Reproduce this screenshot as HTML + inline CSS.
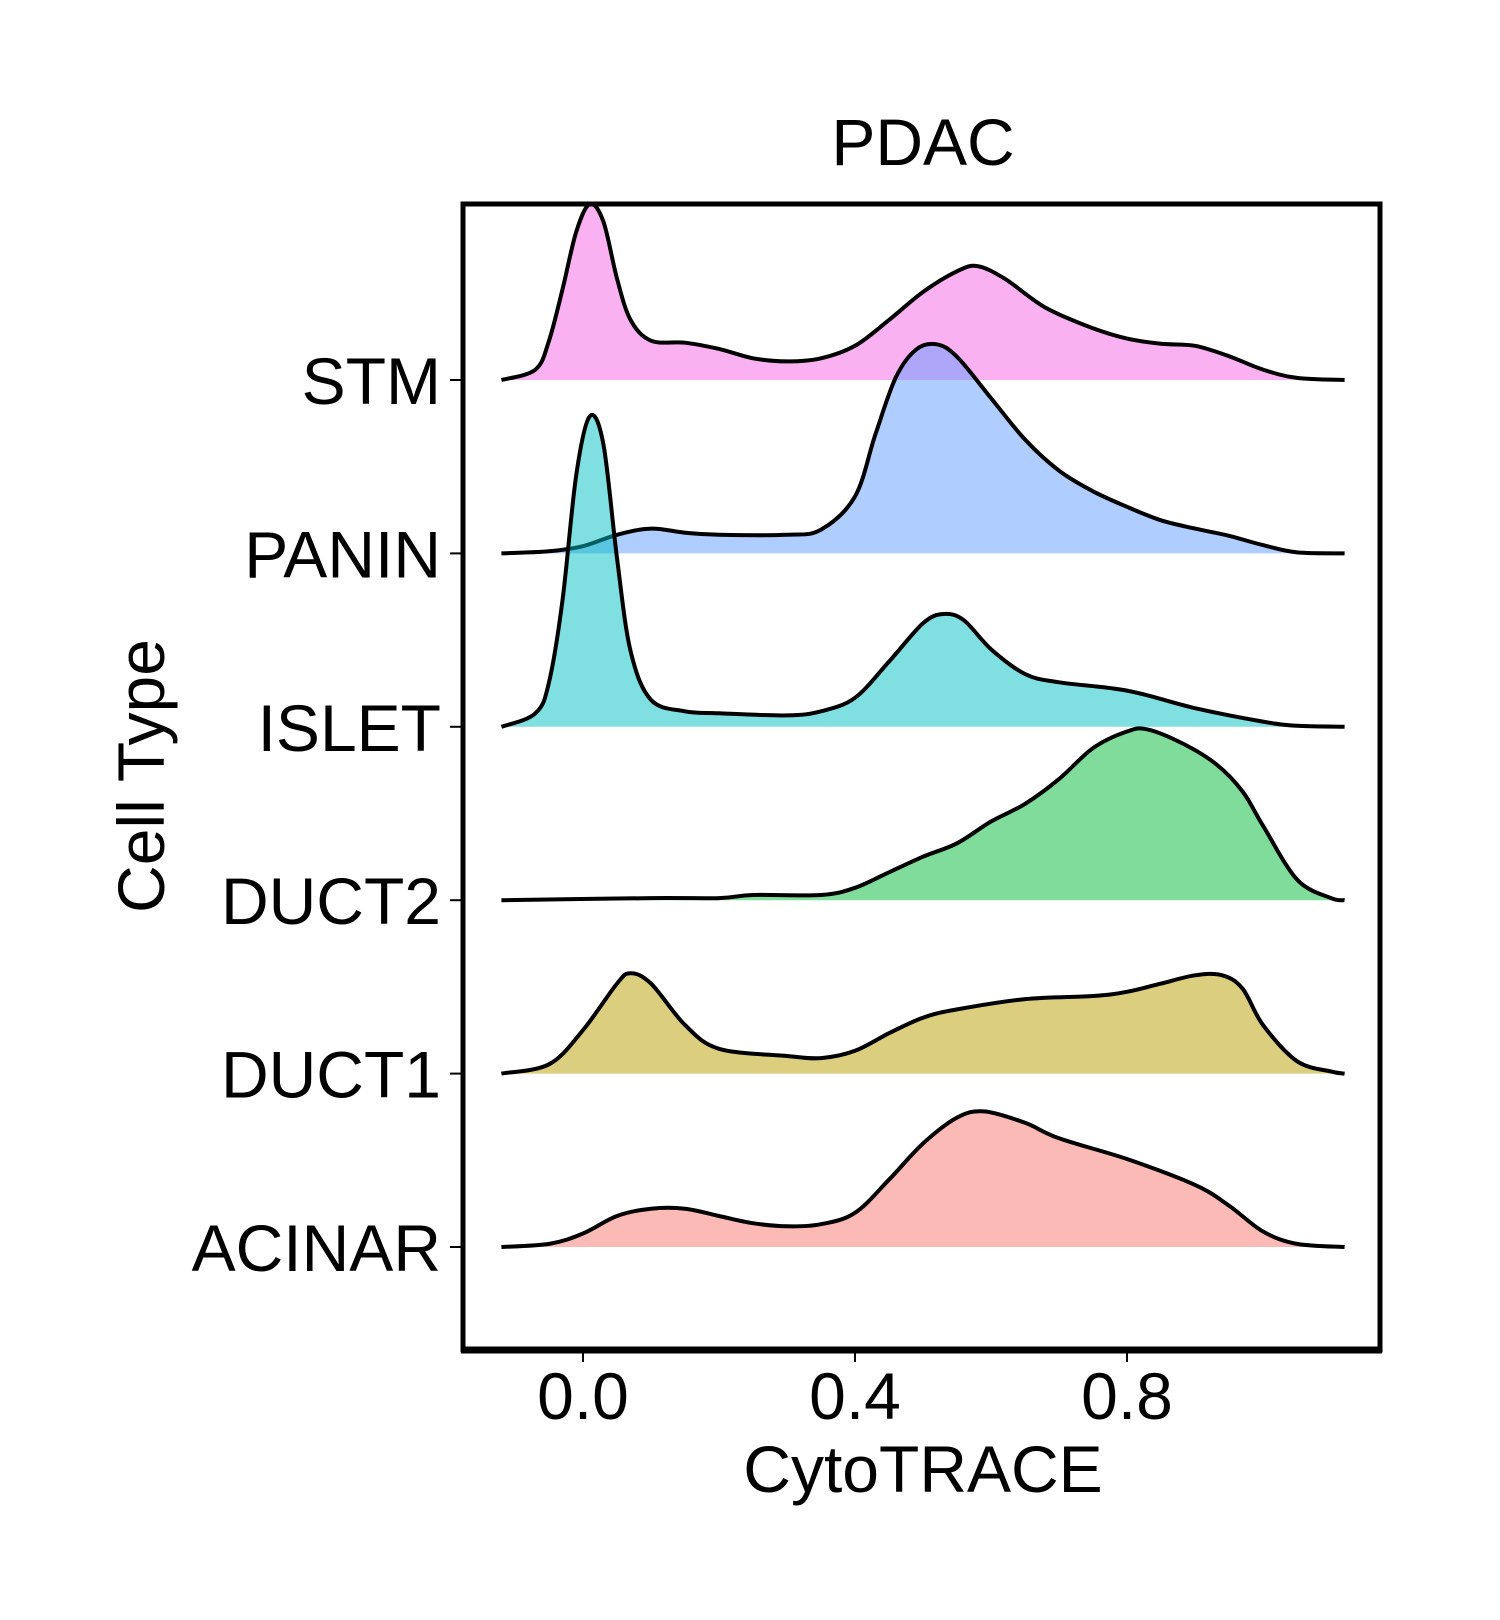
<!DOCTYPE html>
<html><head><meta charset="utf-8"><style>
html,body{margin:0;padding:0;background:#fff;}
svg{display:block;font-family:"Liberation Sans",Arial,sans-serif;}
</style></head><body>
<svg id="chart" width="1500" height="1620" viewBox="0 0 1500 1620" xmlns="http://www.w3.org/2000/svg">
<rect width="1500" height="1620" fill="#fff"/>
<text x="923" y="165" font-size="66" text-anchor="middle">PDAC</text>
<g id="ridges"></g>
<rect x="463" y="204" width="917" height="1146" fill="none" stroke="#000" stroke-width="5"/>
<line x1="461" y1="1350" x2="1382" y2="1350" stroke="#000" stroke-width="7"/>
<g id="xticks"></g>
<g id="yticks"></g>
<text x="923" y="1492" font-size="66" text-anchor="middle">CytoTRACE</text>
<text x="0" y="0" font-size="66" text-anchor="middle" transform="translate(164,776) rotate(-90)">Cell Type</text>
</svg>
<script>
const categories = ["STM","PANIN","ISLET","DUCT2","DUCT1","ACINAR"];
const colors = ["#F564E3","#619CFF","#00BFC4","#00BA38","#B79F00","#F8766D"];
const xTicks = [0.0, 0.4, 0.8];
const xTickLabels = ["0.0","0.4","0.8"];
const stmX = [-0.12,-0.07,-0.05,-0.03,-0.01,0.01,0.03,0.05,0.07,0.1,0.15,0.2,0.25,0.3,0.35,0.4,0.45,0.5,0.55,0.58,0.62,0.68,0.75,0.8,0.85,0.9,0.95,1.0,1.05,1.12];
const stmY = [0,0.10,0.38,0.88,1.43,1.70,1.53,0.98,0.58,0.38,0.36,0.30,0.21,0.18,0.21,0.33,0.58,0.85,1.05,1.10,0.98,0.70,0.50,0.40,0.35,0.33,0.23,0.10,0.02,0];
const paninX = [-0.12,-0.05,0,0.05,0.1,0.15,0.2,0.3,0.35,0.4,0.43,0.46,0.49,0.52,0.55,0.6,0.65,0.7,0.75,0.8,0.85,0.9,0.95,1.0,1.05,1.12];
const paninY = [0,0.02,0.07,0.18,0.24,0.20,0.18,0.18,0.23,0.55,1.15,1.70,1.97,2.02,1.90,1.50,1.10,0.80,0.60,0.45,0.32,0.24,0.17,0.08,0.01,0];
const isletX = [-0.12,-0.07,-0.05,-0.03,-0.01,0.01,0.03,0.05,0.07,0.1,0.15,0.2,0.3,0.35,0.4,0.45,0.5,0.53,0.56,0.6,0.65,0.7,0.8,0.9,1.0,1.05,1.12];
const isletY = [0,0.13,0.43,1.23,2.43,3.00,2.73,1.63,0.73,0.26,0.15,0.13,0.11,0.15,0.28,0.63,1.00,1.09,1.03,0.75,0.51,0.43,0.35,0.18,0.05,0.01,0];
const duct2X = [-0.12,0.1,0.2,0.25,0.35,0.4,0.45,0.5,0.55,0.6,0.65,0.7,0.75,0.8,0.83,0.88,0.93,0.97,1.0,1.05,1.1,1.12];
const duct2Y = [0,0.02,0.02,0.05,0.05,0.12,0.27,0.42,0.55,0.76,0.93,1.17,1.47,1.63,1.65,1.52,1.32,1.05,0.72,0.20,0.02,0];
const duct1X = [-0.12,-0.05,0,0.05,0.07,0.1,0.15,0.2,0.3,0.35,0.4,0.45,0.5,0.55,0.65,0.75,0.8,0.85,0.9,0.94,0.97,1.0,1.05,1.1,1.12];
const duct1Y = [0,0.09,0.42,0.87,0.97,0.87,0.47,0.24,0.17,0.15,0.22,0.39,0.54,0.62,0.72,0.75,0.79,0.87,0.95,0.95,0.82,0.47,0.12,0.02,0];
const acinarX = [-0.12,-0.05,0,0.05,0.1,0.15,0.2,0.25,0.3,0.35,0.4,0.45,0.5,0.55,0.59,0.65,0.7,0.8,0.9,0.95,1.0,1.05,1.12];
const acinarY = [0,0.03,0.13,0.30,0.37,0.37,0.30,0.23,0.20,0.22,0.33,0.65,1.00,1.25,1.31,1.20,1.05,0.85,0.60,0.40,0.15,0.03,0];

const seriesX = [stmX,paninX,isletX,duct2X,duct1X,acinarX];
const seriesY = [stmY,paninY,isletY,duct2Y,duct1Y,acinarY];

const NS = "http://www.w3.org/2000/svg";
const xScale = v => 583 + 680 * v;
const baseline = i => 380 + 173.4 * i;
const hScale = d => d * 103.5;

function smoothPath(pts){
  let d = "M" + pts[0][0].toFixed(1) + "," + pts[0][1].toFixed(1);
  for (let i = 0; i < pts.length - 1; i++){
    const p0 = pts[Math.max(0,i-1)], p1 = pts[i], p2 = pts[i+1], p3 = pts[Math.min(pts.length-1,i+2)];
    const t = 1/6;
    const c1 = [p1[0] + (p2[0]-p0[0])*t, p1[1] + (p2[1]-p0[1])*t];
    const c2 = [p2[0] - (p3[0]-p1[0])*t, p2[1] - (p3[1]-p1[1])*t];
    d += " C" + c1[0].toFixed(1) + "," + c1[1].toFixed(1) + " " + c2[0].toFixed(1) + "," + c2[1].toFixed(1) + " " + p2[0].toFixed(1) + "," + p2[1].toFixed(1);
  }
  return d;
}

const g = document.getElementById("ridges");
categories.forEach((cat, i) => {
  const b = baseline(i);
  const pts = seriesX[i].map((x, k) => [xScale(x), b - hScale(seriesY[i][k])]);
  const line = smoothPath(pts);
  const area = document.createElementNS(NS, "path");
  area.setAttribute("d", line + " L" + pts[pts.length-1][0].toFixed(1) + "," + b + " L" + pts[0][0].toFixed(1) + "," + b + " Z");
  area.setAttribute("fill", colors[i]);
  area.setAttribute("fill-opacity", "0.5");
  
  
  g.appendChild(area);
  const ln = document.createElementNS(NS, "path");
  ln.setAttribute("d", line);
  ln.setAttribute("fill", "none");
  ln.setAttribute("stroke", "#000");
  ln.setAttribute("stroke-width", "4");
  ln.setAttribute("stroke-linejoin", "round");
  
  
  g.appendChild(ln);
});

const yt = document.getElementById("yticks");
categories.forEach((cat, i) => {
  const b = baseline(i);
  const tk = document.createElementNS(NS, "line");
  tk.setAttribute("x1", 450); tk.setAttribute("x2", 463);
  tk.setAttribute("y1", b); tk.setAttribute("y2", b);
  tk.setAttribute("stroke", "#000"); tk.setAttribute("stroke-width", "2");
  
  
  yt.appendChild(tk);
  const t = document.createElementNS(NS, "text");
  t.setAttribute("x", 441); t.setAttribute("y", b + 24);
  t.setAttribute("font-size", "66"); t.setAttribute("text-anchor", "end");
  t.textContent = cat;
  
  
  yt.appendChild(t);
});

const xt = document.getElementById("xticks");
xTicks.forEach((v, i) => {
  const x = xScale(v);
  const tk = document.createElementNS(NS, "line");
  tk.setAttribute("x1", x); tk.setAttribute("x2", x);
  tk.setAttribute("y1", 1353); tk.setAttribute("y2", 1362);
  tk.setAttribute("stroke", "#000"); tk.setAttribute("stroke-width", "2");
  
  
  xt.appendChild(tk);
  const t = document.createElementNS(NS, "text");
  t.setAttribute("x", x); t.setAttribute("y", 1419);
  t.setAttribute("font-size", "66"); t.setAttribute("text-anchor", "middle");
  t.textContent = xTickLabels[i];
  
  
  xt.appendChild(t);
});
</script>
</body></html>
